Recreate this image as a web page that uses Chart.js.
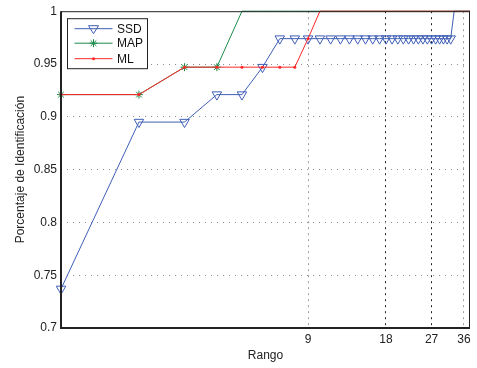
<!DOCTYPE html>
<html>
<head>
<meta charset="utf-8">
<script src="https://cdn.jsdelivr.net/npm/chart.js@4/dist/chart.umd.min.js"></script>
<style>
    html, body { margin: 0; padding: 0; background: #fff; }
    #wrap { width: 477px; height: 368px; }
</style>
</head>
<body>
<div id="wrap"><canvas id="rankChart" width="477" height="368"></canvas></div>
<script>
const ranks = [1, 2, 3, 4, 5, 6, 7, 8, 9, 10, 11, 12, 13, 14, 15, 16, 17, 18, 19,
    20, 21, 22, 23, 24, 25, 26, 27, 28, 29, 30, 31, 32, 33, 34, 35, 36, 37, 38];

const ssdValues = [0.737, 0.895, 0.895, 0.921, 0.921, 0.947, 0.974, 0.974, 0.974, 0.974,
    0.974, 0.974, 0.974, 0.974, 0.974, 0.974, 0.974, 0.974, 0.974, 0.974,
    0.974, 0.974, 0.974, 0.974, 0.974, 0.974, 0.974, 0.974, 0.974, 0.974,
    0.974, 0.974, 1, 1, 1, 1, 1, 1];

const mapValues = [0.921, 0.921, 0.947, 0.947, 1, 1, 1, 1, 1, 1,
    1, 1, 1, 1, 1, 1, 1, 1, 1, 1,
    1, 1, 1, 1, 1, 1, 1, 1, 1, 1,
    1, 1, 1, 1, 1, 1, 1, 1];

const mlValues = [0.921, 0.921, 0.947, 0.947, 0.947, 0.947, 0.947, 0.947, 0.974, 1,
    1, 1, 1, 1, 1, 1, 1, 1, 1, 1,
    1, 1, 1, 1, 1, 1, 1, 1, 1, 1,
    1, 1, 1, 1, 1, 1, 1, 1];

const xTickValues = [9, 18, 27, 36];
const seriesNames = ['SSD', 'MAP', 'ML'];

const FONT = 'Liberation Sans, Arial, Helvetica, sans-serif';
const BLUE = '#3f5fb6';
const GREEN = '#1b8a4a';
const RED = '#ff2626';

const toPoints = values => ranks.map((r, i) => ({ x: r, y: values[i] }));
// markers sitting on the top edge are clipped away in the original
const hideAtTop = size => ctx => (ctx.raw && ctx.raw.y >= 1 ? 0 : size);

function drawMarker(ctx, kind, x, y, color) {
    ctx.save();
    ctx.strokeStyle = color;
    ctx.fillStyle = color;
    ctx.lineWidth = 1;
    ctx.beginPath();
    if (kind === 'triangle') {
        ctx.moveTo(x - 5, y - 3);
        ctx.lineTo(x + 5, y - 3);
        ctx.lineTo(x, y + 5);
        ctx.closePath();
        ctx.stroke();
    } else if (kind === 'star') {
        for (let a = 0; a < 4; a++) {
            const ang = a * Math.PI / 4;
            ctx.moveTo(x - Math.cos(ang) * 4, y - Math.sin(ang) * 4);
            ctx.lineTo(x + Math.cos(ang) * 4, y + Math.sin(ang) * 4);
        }
        ctx.stroke();
    } else {
        ctx.arc(x, y, 1.5, 0, Math.PI * 2);
        ctx.fill();
    }
    ctx.restore();
}

const frameAndLegend = {
    id: 'frameAndLegend',
    afterDatasetsDraw(chart) {
        const { ctx, chartArea: a } = chart;
        ctx.save();
        ctx.strokeStyle = '#222';
        ctx.lineWidth = 1;
        ctx.beginPath();
        ctx.moveTo(a.left, a.top + 0.5);
        ctx.lineTo(a.right, a.top + 0.5);
        ctx.moveTo(a.right - 0.5, a.top);
        ctx.lineTo(a.right - 0.5, a.bottom);
        ctx.stroke();
        ctx.lineWidth = 2;
        ctx.beginPath();
        ctx.moveTo(a.left, a.top);
        ctx.lineTo(a.left, a.bottom);
        ctx.lineTo(a.right, a.bottom);
        ctx.stroke();

        // legend box
        const bx = a.left + 6.5, by = a.top + 7.5, bw = 80, bh = 50;
        ctx.fillStyle = '#fff';
        ctx.fillRect(bx, by, bw, bh);
        ctx.lineWidth = 1;
        ctx.strokeRect(bx, by, bw, bh);

        const kinds = ['triangle', 'star', 'dot'];
        const colors = [BLUE, GREEN, RED];
        const rows = [10, 24.5, 40];
        ctx.font = '12px ' + FONT;
        ctx.textBaseline = 'middle';
        seriesNames.forEach((name, i) => {
            const y = by + rows[i];
            ctx.strokeStyle = colors[i];
            ctx.beginPath();
            ctx.moveTo(bx + 7, y);
            ctx.lineTo(bx + 45, y);
            ctx.stroke();
            drawMarker(ctx, kinds[i], bx + 26, y, colors[i]);
            ctx.fillStyle = '#111';
            ctx.fillText(name, bx + 49.5, y + 0.5);
        });
        ctx.restore();
    }
};

new Chart(document.getElementById('rankChart'), {
    type: 'line',
    data: {
        datasets: [
            {
                label: seriesNames[0],
                data: toPoints(ssdValues),
                borderColor: BLUE,
                borderWidth: 1,
                pointStyle: 'triangle',
                rotation: 180,
                pointRadius: hideAtTop(5.5),
                pointBorderColor: BLUE,
                pointBackgroundColor: 'rgba(0,0,0,0)',
                pointBorderWidth: 1,
                clip: false,
                order: 3
            },
            {
                label: seriesNames[1],
                data: toPoints(mapValues),
                borderColor: GREEN,
                borderWidth: 1,
                pointStyle: 'star',
                pointRadius: hideAtTop(4),
                pointBorderColor: GREEN,
                pointBackgroundColor: GREEN,
                pointBorderWidth: 1,
                clip: false,
                order: 2
            },
            {
                label: seriesNames[2],
                data: toPoints(mlValues),
                borderColor: RED,
                borderWidth: 1,
                pointStyle: 'circle',
                pointRadius: hideAtTop(1.5),
                pointBorderColor: RED,
                pointBackgroundColor: RED,
                pointBorderWidth: 0,
                clip: false,
                order: 1
            }
        ]
    },
    options: {
        responsive: false,
        animation: false,
        layout: { padding: { left: 13, right: 7, top: 5, bottom: 0 } },
        plugins: {
            legend: { display: false },
            tooltip: { enabled: false }
        },
        scales: {
            x: {
                type: 'logarithmic',
                min: 1,
                max: 38,
                afterBuildTicks: axis => {
                    axis.ticks = xTickValues.map(v => ({ value: v }));
                },
                afterFit: axis => { axis.height = 40; },
                ticks: {
                    autoSkip: false,
                    maxRotation: 0,
                    padding: 4,
                    color: '#222',
                    font: { family: FONT, size: 12 },
                    callback: value => String(value)
                },
                grid: {
                    drawTicks: false,
                    color: ctx => (ctx.tick && (ctx.tick.value === 18 || ctx.tick.value === 27) ? '#222' : '#a0a0a0'),
                    lineWidth: 1
                },
                border: { display: false, dash: [2, 4] },
                title: {
                    display: true,
                    text: 'Rango',
                    color: '#222',
                    font: { family: FONT, size: 12 },
                    padding: { top: 0, bottom: 5 }
                }
            },
            y: {
                min: 0.7,
                max: 1,
                afterFit: axis => { axis.width = 48; },
                ticks: {
                    stepSize: 0.05,
                    padding: 4,
                    color: '#222',
                    font: { family: FONT, size: 12 },
                    callback: value => String(Number(value.toFixed(2)))
                },
                grid: {
                    drawTicks: false,
                    color: ctx => {
                        const v = ctx.tick ? ctx.tick.value : 0;
                        return v <= 0.7001 || v >= 0.9999 ? 'rgba(0,0,0,0)' : '#909090';
                    },
                    lineWidth: 1
                },
                border: { display: false, dash: [1, 5] },
                title: {
                    display: true,
                    text: 'Porcentaje de Identificación',
                    color: '#222',
                    font: { family: FONT, size: 12 },
                    padding: { top: 0, bottom: 0 }
                }
            }
        }
    },
    plugins: [frameAndLegend]
});
</script>
</body>
</html>
